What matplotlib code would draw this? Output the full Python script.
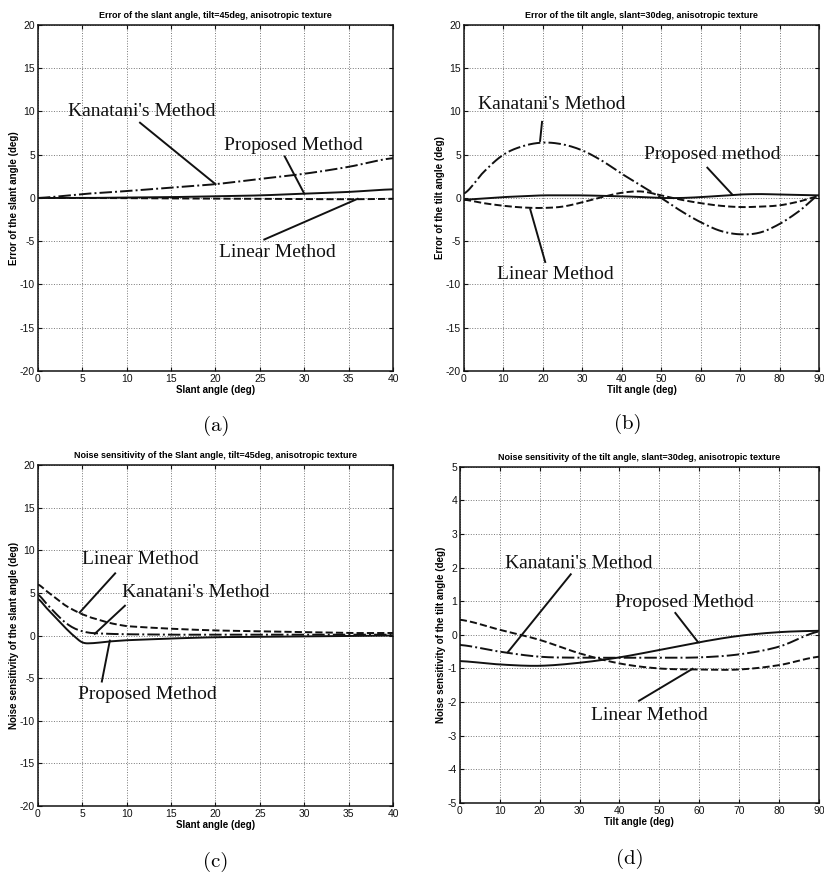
import matplotlib
matplotlib.use('Agg')
import matplotlib.pyplot as plt
import matplotlib.ticker as mticker
import numpy as np

plt.rcParams['font.family'] = ['Liberation Sans', 'DejaVu Sans']
plt.rcParams['axes.unicode_minus'] = False
plt.rcParams['xtick.direction'] = 'in'
plt.rcParams['ytick.direction'] = 'in'

# (a) error of slant angle vs slant angle
a_x = [0, 5, 10, 15, 20, 25, 30, 35, 40]
a_kanatani = [0.0, 0.45, 0.8, 1.2, 1.6, 2.2, 2.8, 3.6, 4.6]
a_proposed = [0.0, 0.0, 0.05, 0.1, 0.2, 0.3, 0.5, 0.7, 1.0]
a_linear = [0.0, 0.0, -0.02, -0.05, -0.08, -0.1, -0.12, -0.15, -0.1]

# (b) error of tilt angle vs tilt angle
b_x = [0, 5, 10, 15, 20, 25, 30, 35, 40, 45, 50, 55, 60, 65, 70, 75, 80, 85, 90]
b_kanatani = [0.5, 3.0, 5.0, 6.0, 6.4, 6.2, 5.5, 4.3, 2.8, 1.4, 0.0, -1.5, -2.8, -3.8, -4.2, -4.0, -3.0, -1.5, 0.3]
b_proposed = [-0.2, -0.05, 0.1, 0.2, 0.3, 0.3, 0.3, 0.25, 0.2, 0.1, 0.0, 0.0, 0.1, 0.25, 0.4, 0.45, 0.4, 0.35, 0.3]
b_linear = [-0.2, -0.6, -0.9, -1.1, -1.15, -1.0, -0.5, 0.1, 0.6, 0.75, 0.3, -0.2, -0.6, -0.9, -1.05, -1.0, -0.85, -0.4, 0.2]

# (c) noise sensitivity of slant angle vs slant angle
c_x = [0, 1, 2, 3, 4, 5, 6, 8, 10, 15, 20, 25, 30, 35, 40]
c_proposed = [4.3, 3.2, 2.1, 1.0, 0.0, -0.8, -0.9, -0.7, -0.55, -0.35, -0.2, -0.15, -0.1, -0.05, 0.0]
c_kanatani = [4.8, 3.7, 2.6, 1.6, 0.9, 0.5, 0.3, 0.2, 0.15, 0.1, 0.1, 0.1, 0.1, 0.1, 0.1]
c_linear = [6.0, 5.2, 4.4, 3.6, 3.0, 2.5, 2.1, 1.5, 1.1, 0.8, 0.6, 0.5, 0.4, 0.3, 0.3]

# (d) noise sensitivity of tilt angle vs tilt angle
d_x = [0, 10, 20, 30, 40, 50, 60, 70, 80, 90]
d_linear = [0.45, 0.15, -0.15, -0.55, -0.85, -1.0, -1.03, -1.03, -0.9, -0.65]
d_kanatani = [-0.3, -0.5, -0.65, -0.68, -0.68, -0.68, -0.67, -0.58, -0.35, 0.1]
d_proposed = [-0.78, -0.88, -0.92, -0.83, -0.67, -0.45, -0.22, -0.03, 0.08, 0.12]

TITLE_FS = 6.5
TICK_FS = 7.5
NOTE_FS = 14
INK = '#111111'
SERIF = ['Liberation Serif', 'DejaVu Serif']


def smooth(x, y, n=200):
    """
    Catmull-Rom resampling through the read points, for a smooth MATLAB-like curve.
    """
    x = np.asarray(x, float)
    y = np.asarray(y, float)
    xs = np.linspace(x[0], x[-1], n)
    xx, yy = [], []
    for i in range(len(x) - 1):
        p0 = y[i - 1] if i > 0 else y[i]
        p1, p2 = y[i], y[i + 1]
        p3 = y[i + 2] if i + 2 < len(x) else y[i + 1]
        m = (xs >= x[i]) & ((xs < x[i + 1]) | (i == len(x) - 2))
        t = (xs[m] - x[i]) / (x[i + 1] - x[i])
        xx.append(xs[m])
        yy.append(0.5 * ((2 * p1) + (-p0 + p2) * t + (2 * p0 - 5 * p1 + 4 * p2 - p3) * t ** 2
                         + (-p0 + 3 * p1 - 3 * p2 + p3) * t ** 3))
    return np.concatenate(xx), np.concatenate(yy)


def setup(ax, title, xlabel, ylabel, xlim, ylim, xstep, ystep):
    ax.set_xlim(xlim)
    ax.set_ylim(ylim)
    ax.xaxis.set_major_locator(mticker.MultipleLocator(xstep))
    ax.yaxis.set_major_locator(mticker.MultipleLocator(ystep))
    ax.tick_params(labelsize=TICK_FS, top=True, right=True, length=3, width=0.8, pad=2, colors=INK)
    ax.grid(True, linestyle=':', color='#777777', linewidth=0.7)
    for s in ax.spines.values():
        s.set_linewidth(1.1)
        s.set_color(INK)
    ax.set_title(title, fontsize=TITLE_FS, fontweight='bold', pad=5)
    ax.set_xlabel(xlabel, fontsize=TITLE_FS + 0.5, fontweight='bold', labelpad=1)
    ax.set_ylabel(ylabel, fontsize=TITLE_FS + 0.5, fontweight='bold', labelpad=1)


def note(ax, text, pos, start, end):
    ax.text(pos[0], pos[1], text, ha='center', va='center', fontsize=NOTE_FS, family=SERIF, color=INK)
    ax.plot([start[0], end[0]], [start[1], end[1]], color=INK, lw=1.4)


def curves(ax, x, solid, dashed, dashdot):
    for y, ls in ((dashdot, '-.'), (dashed, '--'), (solid, '-')):
        xx, yy = smooth(x, y)
        ax.plot(xx, yy, color=INK, linestyle=ls, lw=1.4)


fig = plt.figure(figsize=(8.24, 8.76), dpi=100)
ax_a = fig.add_axes([0.046, 0.5765, 0.431, 0.395])
ax_b = fig.add_axes([0.563, 0.5765, 0.431, 0.395])
ax_c = fig.add_axes([0.046, 0.080, 0.431, 0.389])
ax_d = fig.add_axes([0.558, 0.0833, 0.436, 0.384])

# (a)
curves(ax_a, a_x, a_proposed, a_linear, a_kanatani)
setup(ax_a, 'Error of the slant angle, tilt=45deg, anisotropic texture', 'Slant angle (deg)',
      'Error of the slant angle (deg)', (0, 40), (-20, 20), 5, 5)
note(ax_a, "Kanatani's Method", (11.7, 10.0), (11.5, 8.7), (20, 1.6))
note(ax_a, 'Proposed Method', (28.8, 6.1), (27.8, 4.8), (30, 0.5))
note(ax_a, 'Linear Method', (27.0, -6.3), (25.5, -4.8), (36, -0.1))

# (b)
curves(ax_b, b_x, b_proposed, b_linear, b_kanatani)
setup(ax_b, 'Error of the tilt angle, slant=30deg, anisotropic texture', 'Tilt angle (deg)',
      'Error of the tilt angle (deg)', (0, 90), (-20, 20), 10, 5)
note(ax_b, "Kanatani's Method", (22.3, 10.8), (19.8, 8.8), (19.3, 6.6))
note(ax_b, 'Proposed method', (63.0, 5.0), (61.7, 3.5), (68, 0.4))
note(ax_b, 'Linear Method', (23.2, -8.8), (20.6, -7.4), (16.8, -1.3))

# (c)
curves(ax_c, c_x, c_proposed, c_linear, c_kanatani)
setup(ax_c, 'Noise sensitivity of the Slant angle, tilt=45deg, anisotropic texture', 'Slant angle (deg)',
      'Noise sensitivity of the slant angle (deg)', (0, 40), (-20, 20), 5, 5)
note(ax_c, 'Linear Method', (11.5, 8.9), (8.7, 7.3), (4.7, 2.7))
note(ax_c, "Kanatani's Method", (17.8, 5.0), (9.8, 3.5), (6.4, 0.2))
note(ax_c, 'Proposed Method', (12.3, -6.9), (7.2, -5.4), (8.1, -0.6))

# (d)
curves(ax_d, d_x, d_proposed, d_linear, d_kanatani)
setup(ax_d, 'Noise sensitivity of the tilt angle, slant=30deg, anisotropic texture', 'Tilt angle (deg)',
      'Noise sensitivity of the tilt angle (deg)', (0, 90), (-5, 5), 10, 1)
note(ax_d, "Kanatani's Method", (29.8, 2.12), (27.8, 1.8), (12, -0.52))
note(ax_d, 'Proposed Method', (56.3, 0.96), (54, 0.65), (59.7, -0.22))
note(ax_d, 'Linear Method', (47.5, -2.41), (44.9, -1.96), (58.3, -1.01))

# panel captions
for lab, x, y in (('(a)', 0.262, 0.514), ('(b)', 0.762, 0.516), ('(c)', 0.262, 0.016), ('(d)', 0.764, 0.020)):
    fig.text(x, y, lab, ha='center', va='center', fontsize=15, family=['cmr10', 'DejaVu Serif'])

fig.savefig('out.png', dpi=100, facecolor='white')
